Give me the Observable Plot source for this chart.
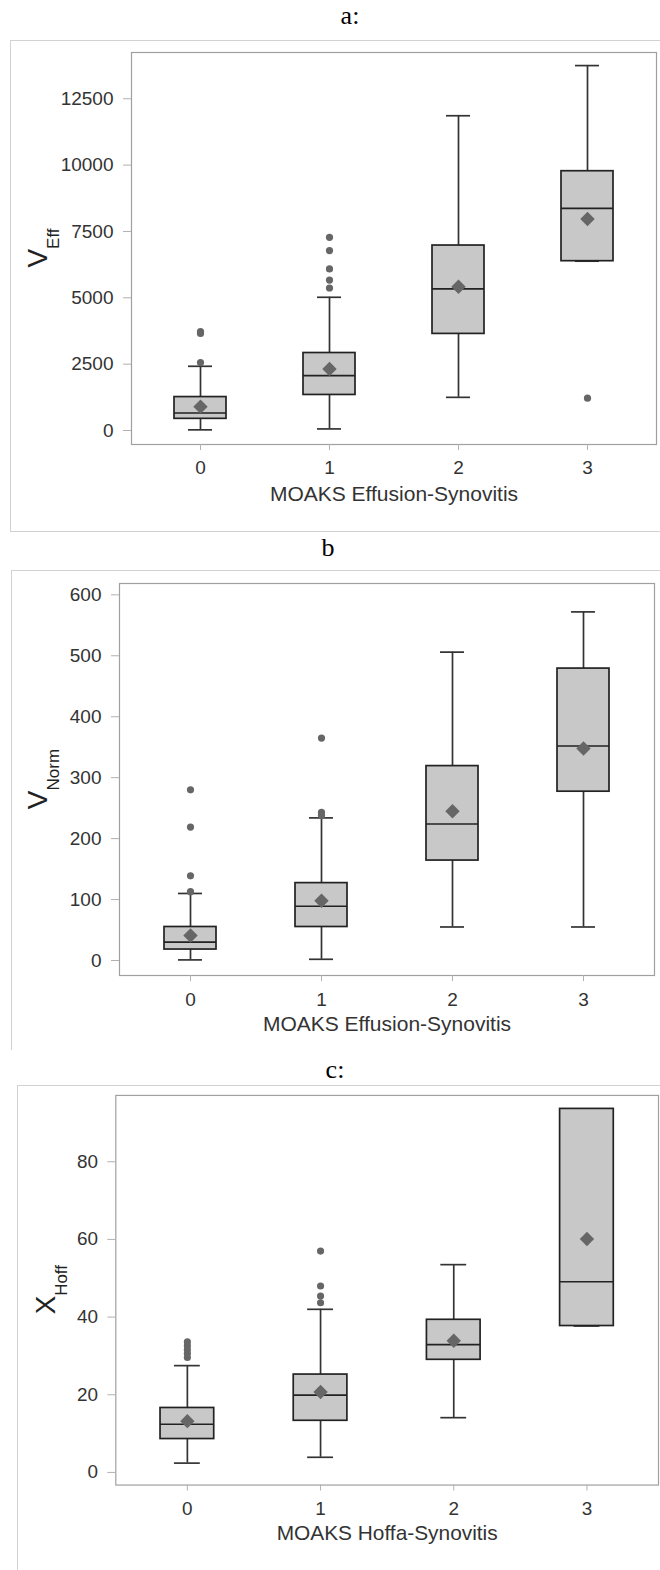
<!DOCTYPE html>
<html><head><meta charset="utf-8">
<script src="https://cdn.jsdelivr.net/npm/d3@7"></script>
<script src="https://cdn.jsdelivr.net/npm/@observablehq/plot@0.6"></script>
<style>
html,body{margin:0;padding:0;background:#fff;}
#root{position:relative;width:660px;height:1570px;overflow:hidden;background:#fff;}
.title{position:absolute;font-family:"Liberation Serif","Times New Roman",serif;font-size:26px;color:#000;transform:translate(-50%,-50%);white-space:nowrap;line-height:1;}
.border{position:absolute;border:1px solid #d2d2d2;box-sizing:border-box;}
.plot{position:absolute;left:0;}
</style></head><body><div id="root"></div>
<script>
const categories = ["0", "1", "2", "3"];

// Panel a: V_Eff by MOAKS Effusion-Synovitis
const aLow    = [25, 60, 1250, 6380];
const aQ1     = [440, 1340, 3640, 6380];
const aMedian = [660, 2070, 5335, 8370];
const aQ3     = [1260, 2920, 6970, 9770];
const aHigh   = [2420, 5020, 11860, 13750];
const aMean   = [900, 2320, 5420, 7970];
const aOutCat = ["0", "0", "0", "1", "1", "1", "1", "1", "3"];
const aOutVal = [3730, 3660, 2560, 7280, 6780, 6090, 5670, 5370, 1220];
const aTicks  = [0, 2500, 5000, 7500, 10000, 12500];

// Panel b: V_Norm by MOAKS Effusion-Synovitis
const bLow    = [1, 2, 55, 55];
const bQ1     = [18, 55, 164, 277];
const bMedian = [30, 89, 224, 352];
const bQ3     = [55, 127, 319, 479];
const bHigh   = [110, 234, 506, 572];
const bMean   = [41, 98, 245, 348];
const bOutCat = ["0", "0", "0", "0", "1", "1", "1"];
const bOutVal = [280, 219, 139, 113, 365, 243, 238];
const bTicks  = [0, 100, 200, 300, 400, 500, 600];

// Panel c: X_Hoff by MOAKS Hoffa-Synovitis
const cLow    = [2.4, 3.9, 14.1, 37.7];
const cQ1     = [8.6, 13.3, 29.0, 37.7];
const cMedian = [12.4, 19.9, 32.9, 49.1];
const cQ3     = [16.6, 25.2, 39.3, 93.6];
const cHigh   = [27.5, 42.0, 53.5, 93.6];
const cMean   = [13.2, 20.7, 33.9, 60.1];
const cOutCat = ["0", "0", "0", "0", "0", "1", "1", "1", "1"];
const cOutVal = [33.6, 32.6, 31.6, 30.6, 29.6, 57.0, 48.0, 45.4, 43.7];
const cTicks  = [0, 20, 40, 60, 80];

const root = document.getElementById("root");

function addDiv(cls, style, text) {
  const d = document.createElement("div");
  d.className = cls;
  Object.assign(d.style, style);
  if (text != null) d.textContent = text;
  root.appendChild(d);
  return d;
}

function panel(cfg) {
  const rows = categories.map((c, i) => ({
    cat: c, low: cfg.low[i], q1: cfg.q1[i], median: cfg.median[i],
    q3: cfg.q3[i], high: cfg.high[i], mean: cfg.mean[i]
  }));
  const outs = cfg.outCat.map((c, i) => ({cat: c, val: cfg.outVal[i]}));
  const mt = 12, mb = 90;
  const H = cfg.frameBottom - cfg.frameTop + mt + mb;
  const W = cfg.width || 660;
  const lw = 1.7;
  const svg = Plot.plot({
    width: W,
    height: H,
    marginTop: mt,
    marginBottom: mb,
    marginLeft: cfg.frameLeft,
    marginRight: W - cfg.frameRight,
    style: {fontFamily: "'Liberation Sans', Arial, sans-serif", fontSize: "19px", color: "#333", background: "transparent", overflow: "visible"},
    x: {type: "band", domain: categories, paddingInner: 0.6, paddingOuter: 0.33, align: 0.5},
    y: {domain: cfg.yDomain},
    marks: [
      Plot.frame({stroke: "#a0a0a0", strokeWidth: 1.2}),
      Plot.ruleX(rows, {x: "cat", y1: "low", y2: "q1", stroke: "#333", strokeWidth: lw}),
      Plot.ruleX(rows, {x: "cat", y1: "q3", y2: "high", stroke: "#333", strokeWidth: lw}),
      Plot.tickY(rows, {x: "cat", y: "low", insetLeft: 14, insetRight: 14, stroke: "#333", strokeWidth: lw}),
      Plot.tickY(rows, {x: "cat", y: "high", insetLeft: 14, insetRight: 14, stroke: "#333", strokeWidth: lw}),
      Plot.barY(rows, {x: "cat", y1: "q1", y2: "q3", fill: "#c8c8c8", stroke: "#222", strokeWidth: lw}),
      Plot.tickY(rows, {x: "cat", y: "median", stroke: "#222", strokeWidth: lw}),
      Plot.dot(outs, {x: "cat", y: "val", r: 3.6, fill: "#666", stroke: null}),
      Plot.dot(rows, {x: "cat", y: "mean", symbol: "diamond2", r: 6.5, fill: "#666", stroke: null}),
      Plot.axisY({ticks: cfg.yTicks, tickSize: 8, tickPadding: 10, stroke: "#b0b0b0", fill: "#333", label: null, tickFormat: d => String(d)}),
      Plot.axisX({tickSize: 6, tickPadding: cfg.xTickPad, stroke: "#b0b0b0", fill: "#333", label: null}),
      Plot.text([cfg.xLabel], {frameAnchor: "bottom", dy: cfg.xLabelDy, fontSize: 21, fill: "#333", text: d => d})
    ]
  });
  // y-axis label with subscript
  const t = d3.select(svg).append("text")
    .attr("transform", `translate(${cfg.yLabelX},${mt + (cfg.frameBottom - cfg.frameTop) / 2}) rotate(-90)`)
    .attr("text-anchor", "middle")
    .attr("fill", "#222")
    .attr("font-family", "'Liberation Sans', Arial, sans-serif");
  t.append("tspan").attr("font-size", 28).text(cfg.yMain);
  t.append("tspan").attr("font-size", 17).attr("dy", 12).text(cfg.ySub);
  svg.classList.add("plot");
  svg.style.position = "absolute";
  svg.style.left = "0px";
  svg.style.top = (cfg.frameTop - mt) + "px";
  root.appendChild(svg);
}

// Panel a
addDiv("title", {left: "350px", top: "16px"}, "a:");
addDiv("border", {left: "10px", top: "40px", width: "700px", height: "492px"});
panel({low: aLow, q1: aQ1, median: aMedian, q3: aQ3, high: aHigh, mean: aMean,
  outCat: aOutCat, outVal: aOutVal, yTicks: aTicks, yDomain: [-527, 14243],
  frameTop: 52, frameBottom: 444, frameLeft: 131, frameRight: 656, xTickPad: 10,
  xLabel: "MOAKS Effusion-Synovitis", xLabelDy: 56, yMain: "V", ySub: "Eff", yLabelX: 47});

// Panel b
addDiv("title", {left: "328px", top: "548px"}, "b");
addDiv("border", {left: "11px", top: "570px", width: "700px", height: "480px", borderBottom: "none"});
panel({low: bLow, q1: bQ1, median: bMedian, q3: bQ3, high: bHigh, mean: bMean,
  outCat: bOutCat, outVal: bOutVal, yTicks: bTicks, yDomain: [-24.6, 618.6],
  frameTop: 583, frameBottom: 975, frameLeft: 119, frameRight: 654, xTickPad: 11,
  xLabel: "MOAKS Effusion-Synovitis", xLabelDy: 55, yMain: "V", ySub: "Norm", yLabelX: 47});

// Panel c
addDiv("title", {left: "335px", top: "1070px"}, "c:");
addDiv("border", {left: "17px", top: "1085px", width: "700px", height: "520px"});
panel({low: cLow, q1: cQ1, median: cMedian, q3: cQ3, high: cHigh, mean: cMean,
  outCat: cOutCat, outVal: cOutVal, yTicks: cTicks, yDomain: [-3.25, 97.07],
  frameTop: 1095, frameBottom: 1487, frameLeft: 116, frameRight: 662, width: 664, xTickPad: 11,
  xLabel: "MOAKS Hoffa-Synovitis", xLabelDy: 55, yMain: "X", ySub: "Hoff", yLabelX: 55});
</script>
</body></html>
